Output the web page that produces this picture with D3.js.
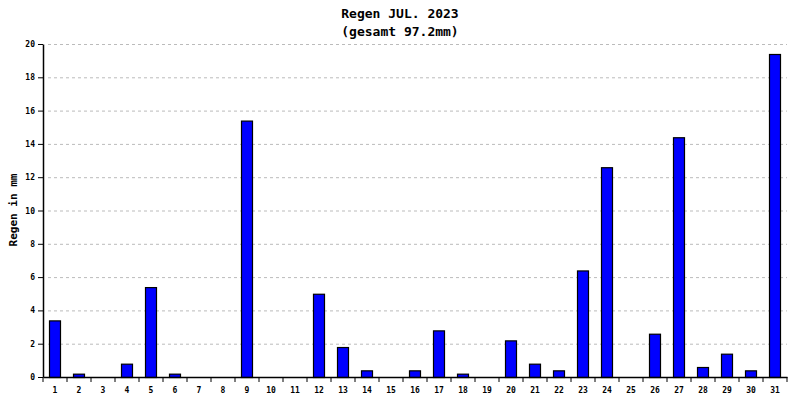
<!DOCTYPE html><html><head><meta charset="utf-8">
<script src="https://cdn.jsdelivr.net/npm/d3@7"></script>
<style>body{margin:0;background:#fff}text{font-family:"DejaVu Sans Mono",monospace}</style></head><body>
<svg id="c" width="800" height="400"></svg>
<script>
const days = d3.range(1,32).map(String);
const rain = [3.4,0.2,0,0.8,5.4,0.2,0,0,15.4,0,0,5.0,1.8,0.4,0,0.4,2.8,0.2,0,2.2,0.8,0.4,6.4,12.6,0,2.6,14.4,0.6,1.4,0.4,19.4];
const yTicks = [0,2,4,6,8,10,12,14,16,18,20];
const title1 = "Regen JUL. 2023", title2 = "(gesamt 97.2mm)", yLabel = "Regen in mm";

const svg = d3.select("#c");
const L=43,R=787,T=44,B=377;
const x = d3.scaleBand().domain(days).range([L,R]);
const y = d3.scaleLinear().domain([0,20]).range([B,T]);
svg.append("g").selectAll("line").data(yTicks.filter(d=>d>0)).join("line")
 .attr("x1",L+5).attr("x2",R).attr("y1",d=>y(d)+0.5).attr("y2",d=>y(d)+0.5)
 .attr("stroke","#bbb").attr("stroke-dasharray","3,3");
svg.append("g").selectAll("rect").data(rain).join("rect")
 .attr("x",(d,i)=>x(days[i])+x.bandwidth()/2-5.5).attr("width",11)
 .attr("y",d=>y(d)+0.5).attr("height",d=>B-y(d))
 .attr("fill","#0000ff").attr("stroke","#000").attr("stroke-width",1.2)
 .attr("display",d=>d>0?null:"none");
const ya = svg.append("g").attr("transform",`translate(${L},0)`).call(d3.axisLeft(y).tickValues(yTicks).tickSize(5).tickSizeOuter(0));
ya.selectAll("text").style("font-size","8px").style("font-weight","bold");
const xa = svg.append("g").attr("transform",`translate(0,${B})`).call(d3.axisBottom(x).tickSize(0).tickSizeOuter(0).tickPadding(10));
xa.selectAll("text").style("font-size","8px").style("font-weight","bold");
xa.selectAll(".sep").data(days.concat(["end"])).join("line").attr("class","sep")
 .attr("x1",(d,i)=>L+i*x.step()).attr("x2",(d,i)=>L+i*x.step()).attr("y1",0).attr("y2",5).attr("stroke","#000");
svg.selectAll(".domain").attr("stroke","#000").attr("stroke-width",1.5);
svg.append("text").attr("x",400).attr("y",18).attr("text-anchor","middle").style("font-size","13px").style("font-weight","bold").text(title1);
svg.append("text").attr("x",400).attr("y",36).attr("text-anchor","middle").style("font-size","13px").style("font-weight","bold").text(title2);
svg.append("text").attr("transform","translate(17,210) rotate(-90)").attr("text-anchor","middle").style("font-size","11px").style("font-weight","bold").text(yLabel);
</script></body></html>
